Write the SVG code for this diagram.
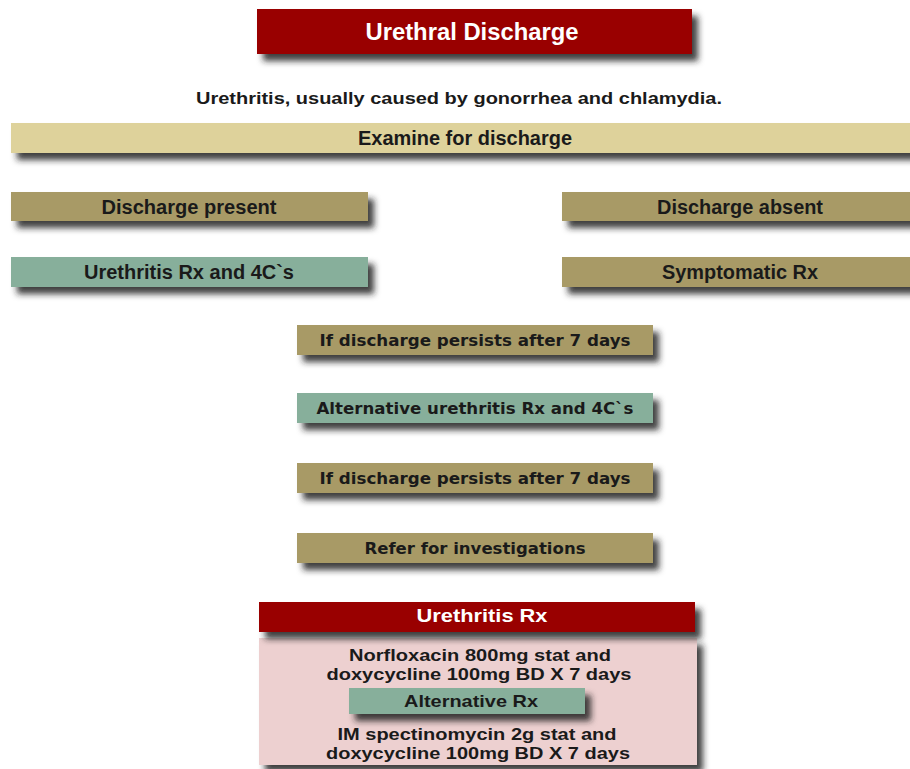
<svg xmlns="http://www.w3.org/2000/svg" width="910" height="769" viewBox="0 0 910 769">
<defs>
<filter id="sh" x="-10%" y="-30%" width="130%" height="200%">
<feDropShadow dx="6" dy="7" stdDeviation="3" flood-color="#222" flood-opacity="0.85"/>
</filter>
</defs>
<style>
.red{fill:#990000;filter:url(#sh)}
.light{fill:#ded29b;filter:url(#sh)}
.khaki{fill:#a89a66;filter:url(#sh)}
.teal{fill:#87af9b;filter:url(#sh)}
.pink{fill:#edd0d0;filter:url(#sh)}
.cond{font-family:"Liberation Sans","Arial",sans-serif;font-weight:bold;text-anchor:middle;fill:#1a1a1a}
.wide{font-family:"DejaVu Sans","Verdana",sans-serif;font-weight:bold;text-anchor:middle;fill:#1a1a1a}
.body{font-family:"Liberation Sans","Arial",sans-serif;font-weight:bold;text-anchor:middle;fill:#1a1a1a}
.white{fill:#ffffff}
</style>
<rect width="910" height="769" fill="#ffffff"/>

<g id="title">
<rect class="red" x="257" y="9" width="435" height="45"/>
<text class="cond white" x="472" y="40" font-size="24" textLength="213" lengthAdjust="spacingAndGlyphs">Urethral Discharge</text>
</g>

<g id="subtitle">
<text class="body" x="459" y="104" font-size="16" textLength="526" lengthAdjust="spacingAndGlyphs">Urethritis, usually caused by gonorrhea and chlamydia.</text>
</g>

<g id="examine">
<rect class="light" x="11" y="123" width="907" height="30"/>
<text class="cond" x="465" y="145" font-size="20" textLength="214" lengthAdjust="spacingAndGlyphs">Examine for discharge</text>
</g>

<g id="discharge-present">
<rect class="khaki" x="11" y="192" width="357" height="29"/>
<text class="cond" x="189" y="214" font-size="20" textLength="175" lengthAdjust="spacingAndGlyphs">Discharge present</text>
</g>

<g id="discharge-absent">
<rect class="khaki" x="562" y="192" width="356" height="29"/>
<text class="cond" x="740" y="214" font-size="20" textLength="166" lengthAdjust="spacingAndGlyphs">Discharge absent</text>
</g>

<g id="urethritis-rx-4cs">
<rect class="teal" x="11" y="257" width="357" height="30"/>
<text class="cond" x="189" y="279" font-size="20" textLength="210" lengthAdjust="spacingAndGlyphs">Urethritis Rx and 4C`s</text>
</g>

<g id="symptomatic-rx">
<rect class="khaki" x="562" y="257" width="356" height="30"/>
<text class="cond" x="740" y="279" font-size="20" textLength="156" lengthAdjust="spacingAndGlyphs">Symptomatic Rx</text>
</g>

<g id="persists-1">
<rect class="khaki" x="297" y="325" width="356" height="30"/>
<text class="wide" x="475" y="346" font-size="16" textLength="311" lengthAdjust="spacingAndGlyphs">If discharge persists after 7 days</text>
</g>

<g id="alternative-rx-4cs">
<rect class="teal" x="297" y="393" width="356" height="30"/>
<text class="wide" x="475" y="414" font-size="16" textLength="317" lengthAdjust="spacingAndGlyphs">Alternative urethritis Rx and 4C`s</text>
</g>

<g id="persists-2">
<rect class="khaki" x="297" y="463" width="356" height="30"/>
<text class="wide" x="475" y="484" font-size="16" textLength="311" lengthAdjust="spacingAndGlyphs">If discharge persists after 7 days</text>
</g>

<g id="refer">
<rect class="khaki" x="297" y="533" width="356" height="30"/>
<text class="wide" x="475" y="554" font-size="16" textLength="221" lengthAdjust="spacingAndGlyphs">Refer for investigations</text>
</g>

<g id="urethritis-rx-panel">
<rect class="pink" x="259" y="638" width="438" height="127"/>
<rect class="red" x="259" y="602" width="436" height="30"/>
<text class="body white" x="482" y="622" font-size="19" textLength="131" lengthAdjust="spacingAndGlyphs">Urethritis Rx</text>
<text class="body" x="480" y="661" font-size="17" textLength="262" lengthAdjust="spacingAndGlyphs">Norfloxacin 800mg stat and</text>
<text class="body" x="479" y="680" font-size="17" textLength="305" lengthAdjust="spacingAndGlyphs">doxycycline 100mg BD X 7 days</text>
</g>

<g id="alternative-rx">
<rect class="teal" x="349" y="688" width="236" height="26"/>
<text class="body" x="471" y="707" font-size="17" textLength="134" lengthAdjust="spacingAndGlyphs">Alternative Rx</text>
</g>

<g id="alternative-rx-text">
<text class="body" x="477" y="740" font-size="17" textLength="279" lengthAdjust="spacingAndGlyphs">IM spectinomycin 2g stat and</text>
<text class="body" x="478" y="759" font-size="17" textLength="304" lengthAdjust="spacingAndGlyphs">doxycycline 100mg BD X 7 days</text>
</g>

<g id="connectors"></g>
</svg>
